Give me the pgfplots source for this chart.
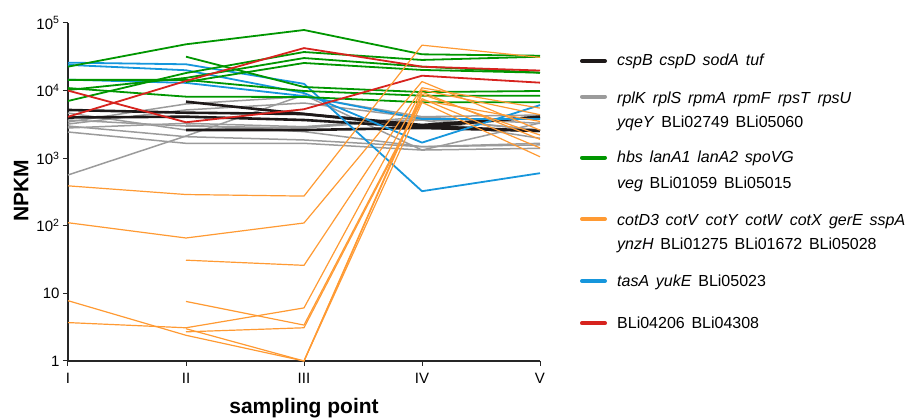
\documentclass[border=0pt]{standalone}
\usepackage{fontspec}
\setmainfont{Liberation Sans}
\usepackage{pgfplots}
\pgfplotsset{compat=1.18}
\definecolor{cblack}{RGB}{30,25,25}
\definecolor{cgray}{RGB}{155,155,155}
\definecolor{cgreen}{RGB}{0,150,0}
\definecolor{corange}{RGB}{255,154,51}
\definecolor{cblue}{RGB}{22,150,220}
\definecolor{cred}{RGB}{215,35,30}
\newcommand{\gap}{\hspace{0.42em}}
\tikzset{
 kb/.style={cblack, line width=2.6pt, line join=round},
 kg/.style={cgray, line width=1.5pt, line join=round},
 kgr/.style={cgreen, line width=1.8pt, line join=round},
 kbl/.style={cblue, line width=1.8pt, line join=round},
 kr/.style={cred, line width=1.8pt, line join=round},
 ko/.style={corange, line width=1.2pt, line join=round},
}
\begin{document}
\begin{tikzpicture}[x=1pt,y=1pt]
\useasboundingbox (0,0) rectangle (919,419);
\begin{axis}[at={(68pt,58pt)}, anchor=south west, scale only axis,
 width=472pt, height=338pt,
 ymode=log, ymin=1, ymax=100000, xmin=0, xmax=4,
 axis x line*=bottom, axis y line*=left,
 xtick={0,1,2,3,4}, xticklabels={I,II,III,IV,V},
 ytick={1,10,100,1000,10000,100000},
 yticklabels={1,10,10\textsuperscript{2},10\textsuperscript{3},10\textsuperscript{4},10\textsuperscript{5}},
 yminorticks=false,
 tick align=outside, major tick length=5pt,
 tick style={line width=1pt, color=black!85},
 axis line style={line width=1.1pt, color=black!85, -},
 ticklabel style={font=\fontsize{15}{18}\selectfont},
 xticklabel style={yshift=-4pt},
 /pgf/number format/assume math mode=true,
 xlabel={sampling point},
 xlabel style={font=\bfseries\fontsize{21}{24}\selectfont, at={(rel axis cs:0.5,-0.1568)}, anchor=base},
 ylabel={NPKM},
 ylabel style={font=\bfseries\fontsize{21}{24}\selectfont, at={(rel axis cs:-0.0841,0.503)}, anchor=base, rotate=0},
 no markers, clip=false,
]
% gray
\addplot[kg] coordinates {(0,564) (1,2130) (2,8610) (3,1320) (4,3320)};
\addplot[kg] coordinates {(0,3430) (1,6340) (2,8130) (3,4110) (4,4350)};
\addplot[kg] coordinates {(0,3200) (1,5170) (2,6550) (3,3930) (4,2610)};
\addplot[kg] coordinates {(0,2800) (1,3280) (2,2920) (3,3670) (4,1970)};
\addplot[kg] coordinates {(0,2440) (1,1660) (2,1660) (3,1320) (4,1400)};
\addplot[kg] coordinates {(0,2990) (1,2080) (2,1860) (3,1480) (4,1570)};
\addplot[kg] coordinates {(1,3100) (2,2470) (3,1480) (4,1660)};
\addplot[kg] coordinates {(0,4660) (1,2610) (2,2900) (3,4070) (4,3280)};
\addplot[kg] coordinates {(0,3670) (1,2990) (2,2800) (3,3800) (4,2610)};
% black
\addplot[kb] coordinates {(0,5170) (1,4710) (2,4500) (3,2990) (4,2530)};
\addplot[kb] coordinates {(0,4000) (1,4110) (2,3670) (3,2900) (4,4110)};
\addplot[kb] coordinates {(1,6850) (2,4510) (3,3100) (4,4070)};
\addplot[kb] coordinates {(1,2610) (2,2610) (3,2800) (4,2530)};
% blue
\addplot[kbl] coordinates {(0,25900) (1,24500) (2,12600) (3,325) (4,600)};
\addplot[kbl] coordinates {(0,24000) (1,20000) (2,9200) (3,1700) (4,6100)};
\addplot[kbl] coordinates {(0,14500) (1,13000) (2,8300) (3,3800) (4,3800)};
% green
\addplot[kgr] coordinates {(0,22600) (1,48400) (2,78800) (3,34400) (4,32800)};
\addplot[kgr] coordinates {(0,14400) (1,14400) (2,9860) (3,8410) (4,8410)};
\addplot[kgr] coordinates {(0,10900) (1,8130) (2,8040) (3,6710) (4,6710)};
\addplot[kgr] coordinates {(0,7020) (1,18200) (2,37200) (3,28400) (4,31700)};
\addplot[kgr] coordinates {(1,31700) (2,11300) (3,9500) (4,9860)};
\addplot[kgr] coordinates {(0,10200) (1,15400) (2,30300) (3,22600) (4,18400)};
\addplot[kgr] coordinates {(1,13400) (2,25600) (3,20200) (4,18400)};
% red
\addplot[kr] coordinates {(0,10000) (1,3400) (2,5300) (3,16600) (4,13100)};
\addplot[kr] coordinates {(0,4100) (1,13900) (2,42500) (3,22600) (4,19800)};
% orange
\addplot[ko] coordinates {(0,390) (1,290) (2,275) (3,47000) (4,31000)};
\addplot[ko] coordinates {(0,111) (1,66) (2,110) (3,13600) (4,2600)};
\addplot[ko] coordinates {(1,31) (2,26) (3,11000) (4,5500)};
\addplot[ko] coordinates {(0,7.8) (1,2.4) (2,1) (3,8800) (4,2200)};
\addplot[ko] coordinates {(0,3.7) (1,3.1) (2,6.1) (3,10200) (4,4400)};
\addplot[ko] coordinates {(1,7.6) (2,3.4) (3,7600) (4,1420)};
\addplot[ko] coordinates {(1,2.7) (2,3.1) (3,7200) (4,3500)};
\addplot[ko] coordinates {(1,3.0) (2,1) (3,6700) (4,1050)};
\addplot[ko] coordinates {(2,1) (3,9500) (4,1900)};
\end{axis}
% legend
\begin{scope}[line width=4pt, line cap=round]
\draw[cblack]  (582,358) -- (605,358);
\draw[cgray]   (582,322.3) -- (605,322.3);
\draw[cgreen]  (582,261.3) -- (605,261.3);
\draw[corange] (582,200) -- (605,200);
\draw[cblue]   (582,138) -- (605,138);
\draw[cred]    (582,95.7) -- (605,95.7);
\end{scope}
\begin{scope}[every node/.style={anchor=base west, inner sep=0pt, font=\fontsize{16}{19}\selectfont}]
\node at (617,353) {\textit{cspB}\gap\textit{cspD}\gap\textit{sodA}\gap\textit{tuf}};
\node at (617,315) {\textit{rplK}\gap\textit{rplS}\gap\textit{rpmA}\gap\textit{rpmF}\gap\textit{rpsT}\gap\textit{rpsU}};
\node at (617,291) {\textit{yqeY}\gap BLi02749\gap BLi05060};
\node at (617,256) {\textit{hbs}\gap\textit{lanA1}\gap\textit{lanA2}\gap\textit{spoVG}};
\node at (617,230) {\textit{veg}\gap BLi01059\gap BLi05015};
\node at (617,193) {\textit{cotD3}\gap\textit{cotV}\gap\textit{cotY}\gap\textit{cotW}\gap\textit{cotX}\gap\textit{gerE}\gap\textit{sspA}};
\node at (617,169) {\textit{ynzH}\gap BLi01275\gap BLi01672\gap BLi05028};
\node at (617,132) {\textit{tasA}\gap\textit{yukE}\gap BLi05023};
\node at (617,90) {BLi04206\gap BLi04308};
\end{scope}
\end{tikzpicture}
\end{document}
